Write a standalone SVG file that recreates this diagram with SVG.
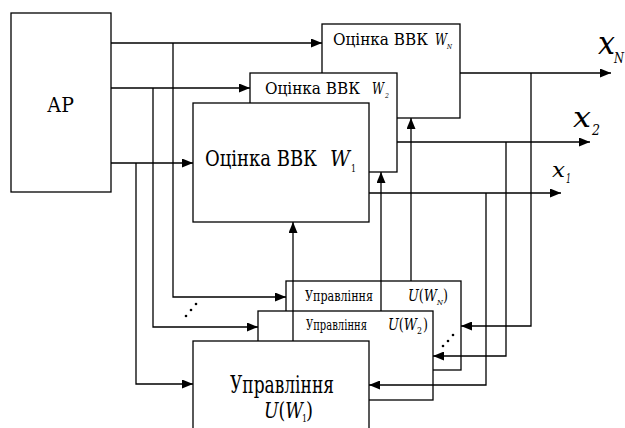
<svg xmlns="http://www.w3.org/2000/svg" width="625" height="428" viewBox="0 0 625 428">
<style>
.box{fill:#fff;stroke:#000;stroke-width:1.3}
.ln{fill:none;stroke:#000;stroke-width:1.3}
text{fill:#000;font-family:'DejaVu Serif','Liberation Serif',serif}
.it{font-style:italic}
</style>
<defs>
<marker id="ah" markerUnits="userSpaceOnUse" markerWidth="11" markerHeight="9" refX="11" refY="4.5" orient="auto">
<path d="M0,0 L11,4.5 L0,9 z" fill="#000"/>
</marker>
</defs>
<rect width="625" height="428" fill="#fff"/>
<g id="ap">
<rect class="box" x="11" y="13" width="100" height="179"/>
<text x="47" y="112" font-size="21" textLength="27" lengthAdjust="spacingAndGlyphs">АР</text>
</g>
<g id="wN">
<rect class="box" x="322" y="24" width="138" height="94"/>
<text x="333" y="45" font-size="16"><tspan textLength="95" lengthAdjust="spacingAndGlyphs">Оцінка ВВК</tspan><tspan class="it" x="435" textLength="12" lengthAdjust="spacingAndGlyphs">W</tspan><tspan class="it" font-size="8" x="447" dy="4" textLength="5" lengthAdjust="spacingAndGlyphs">N</tspan></text>
</g>
<g id="w2">
<rect class="box" x="250" y="73" width="147" height="99"/>
<text x="265" y="94" font-size="16"><tspan textLength="95" lengthAdjust="spacingAndGlyphs">Оцінка ВВК</tspan><tspan class="it" x="372" textLength="12" lengthAdjust="spacingAndGlyphs">W</tspan><tspan class="it" font-size="8" x="385" dy="4" textLength="4" lengthAdjust="spacingAndGlyphs">2</tspan></text>
</g>
<g id="w1">
<rect class="box" x="193" y="103" width="176" height="119"/>
<text x="205" y="166" font-size="23"><tspan textLength="112" lengthAdjust="spacingAndGlyphs">Оцінка ВВК</tspan><tspan class="it" x="330" textLength="20" lengthAdjust="spacingAndGlyphs">W</tspan><tspan font-size="11" x="351" dy="6" textLength="5" lengthAdjust="spacingAndGlyphs">1</tspan></text>
</g>
<g id="uN">
<rect class="box" x="286" y="281" width="175" height="89"/>
<text x="305" y="301" font-size="14"><tspan textLength="68" lengthAdjust="spacingAndGlyphs">Управління</tspan><tspan x="408" font-size="17" textLength="29" lengthAdjust="spacingAndGlyphs"><tspan class="it">U</tspan>(<tspan class="it">W</tspan></tspan><tspan class="it" x="437" font-size="8" dy="4" textLength="6" lengthAdjust="spacingAndGlyphs">N</tspan><tspan x="443" dy="-4" font-size="17" textLength="5" lengthAdjust="spacingAndGlyphs">)</tspan></text>
</g>
<g id="u2">
<rect class="box" x="258" y="311" width="175" height="89"/>
<text x="306" y="330" font-size="14"><tspan textLength="61" lengthAdjust="spacingAndGlyphs">Управління</tspan><tspan x="388" font-size="17" textLength="29" lengthAdjust="spacingAndGlyphs"><tspan class="it">U</tspan>(<tspan class="it">W</tspan></tspan><tspan x="417" font-size="9" dy="4" textLength="5" lengthAdjust="spacingAndGlyphs">2</tspan><tspan x="423" dy="-4" font-size="17" textLength="5" lengthAdjust="spacingAndGlyphs">)</tspan></text>
</g>
<g id="u1">
<rect class="box" x="193" y="341" width="176" height="95"/>
<text x="230" y="393" font-size="25" textLength="104" lengthAdjust="spacingAndGlyphs">Управління</text>
<text x="264" y="418" font-size="23"><tspan textLength="39" lengthAdjust="spacingAndGlyphs"><tspan class="it">U</tspan>(<tspan class="it">W</tspan></tspan><tspan x="302" font-size="11" dy="4" textLength="5" lengthAdjust="spacingAndGlyphs">1</tspan><tspan x="306" dy="-4" textLength="7" lengthAdjust="spacingAndGlyphs">)</tspan></text>
</g>
<g id="connectors">
<path class="ln" marker-end="url(#ah)" d="M111,43 H322"/>
<path class="ln" marker-end="url(#ah)" d="M111,88 H250"/>
<path class="ln" marker-end="url(#ah)" d="M111,163 H193"/>
<path class="ln" marker-end="url(#ah)" d="M173,43 V297 H286"/>
<path class="ln" marker-end="url(#ah)" d="M153,88 V327 H258"/>
<path class="ln" marker-end="url(#ah)" d="M136,163 V384 H193"/>
<path class="ln" marker-end="url(#ah)" d="M293,341 V222"/>
<path class="ln" marker-end="url(#ah)" d="M381,311 V172"/>
<path class="ln" marker-end="url(#ah)" d="M411,281 V118"/>
<path class="ln" marker-end="url(#ah)" d="M460,73 H611"/>
<path class="ln" marker-end="url(#ah)" d="M397,142 H590"/>
<path class="ln" marker-end="url(#ah)" d="M369,193 H561"/>
<path class="ln" marker-end="url(#ah)" d="M531,73 V326 H461"/>
<path class="ln" marker-end="url(#ah)" d="M506,142 V356 H433"/>
<path class="ln" marker-end="url(#ah)" d="M486,193 V385 H369"/>
</g>
<g id="dots" fill="#000">
<circle cx="186" cy="316" r="1.3"/><circle cx="191" cy="310" r="1.3"/><circle cx="196" cy="304" r="1.3"/>
<circle cx="443" cy="346" r="1.3"/><circle cx="448" cy="341" r="1.3"/><circle cx="453" cy="335" r="1.3"/>
</g>
<g id="labels">
<text class="it" x="598" y="54" font-size="32"><tspan textLength="17" lengthAdjust="spacingAndGlyphs">x</tspan><tspan font-size="14" x="614" dy="9" textLength="10" lengthAdjust="spacingAndGlyphs">N</tspan></text>
<text class="it" x="573" y="127" font-size="28"><tspan textLength="18" lengthAdjust="spacingAndGlyphs">x</tspan><tspan font-size="15" x="592" dy="8" textLength="8" lengthAdjust="spacingAndGlyphs">2</tspan></text>
<text class="it" x="552" y="177" font-size="21"><tspan textLength="13" lengthAdjust="spacingAndGlyphs">x</tspan><tspan font-size="13" x="566" dy="6" textLength="5" lengthAdjust="spacingAndGlyphs">1</tspan></text>
</g>
</svg>
